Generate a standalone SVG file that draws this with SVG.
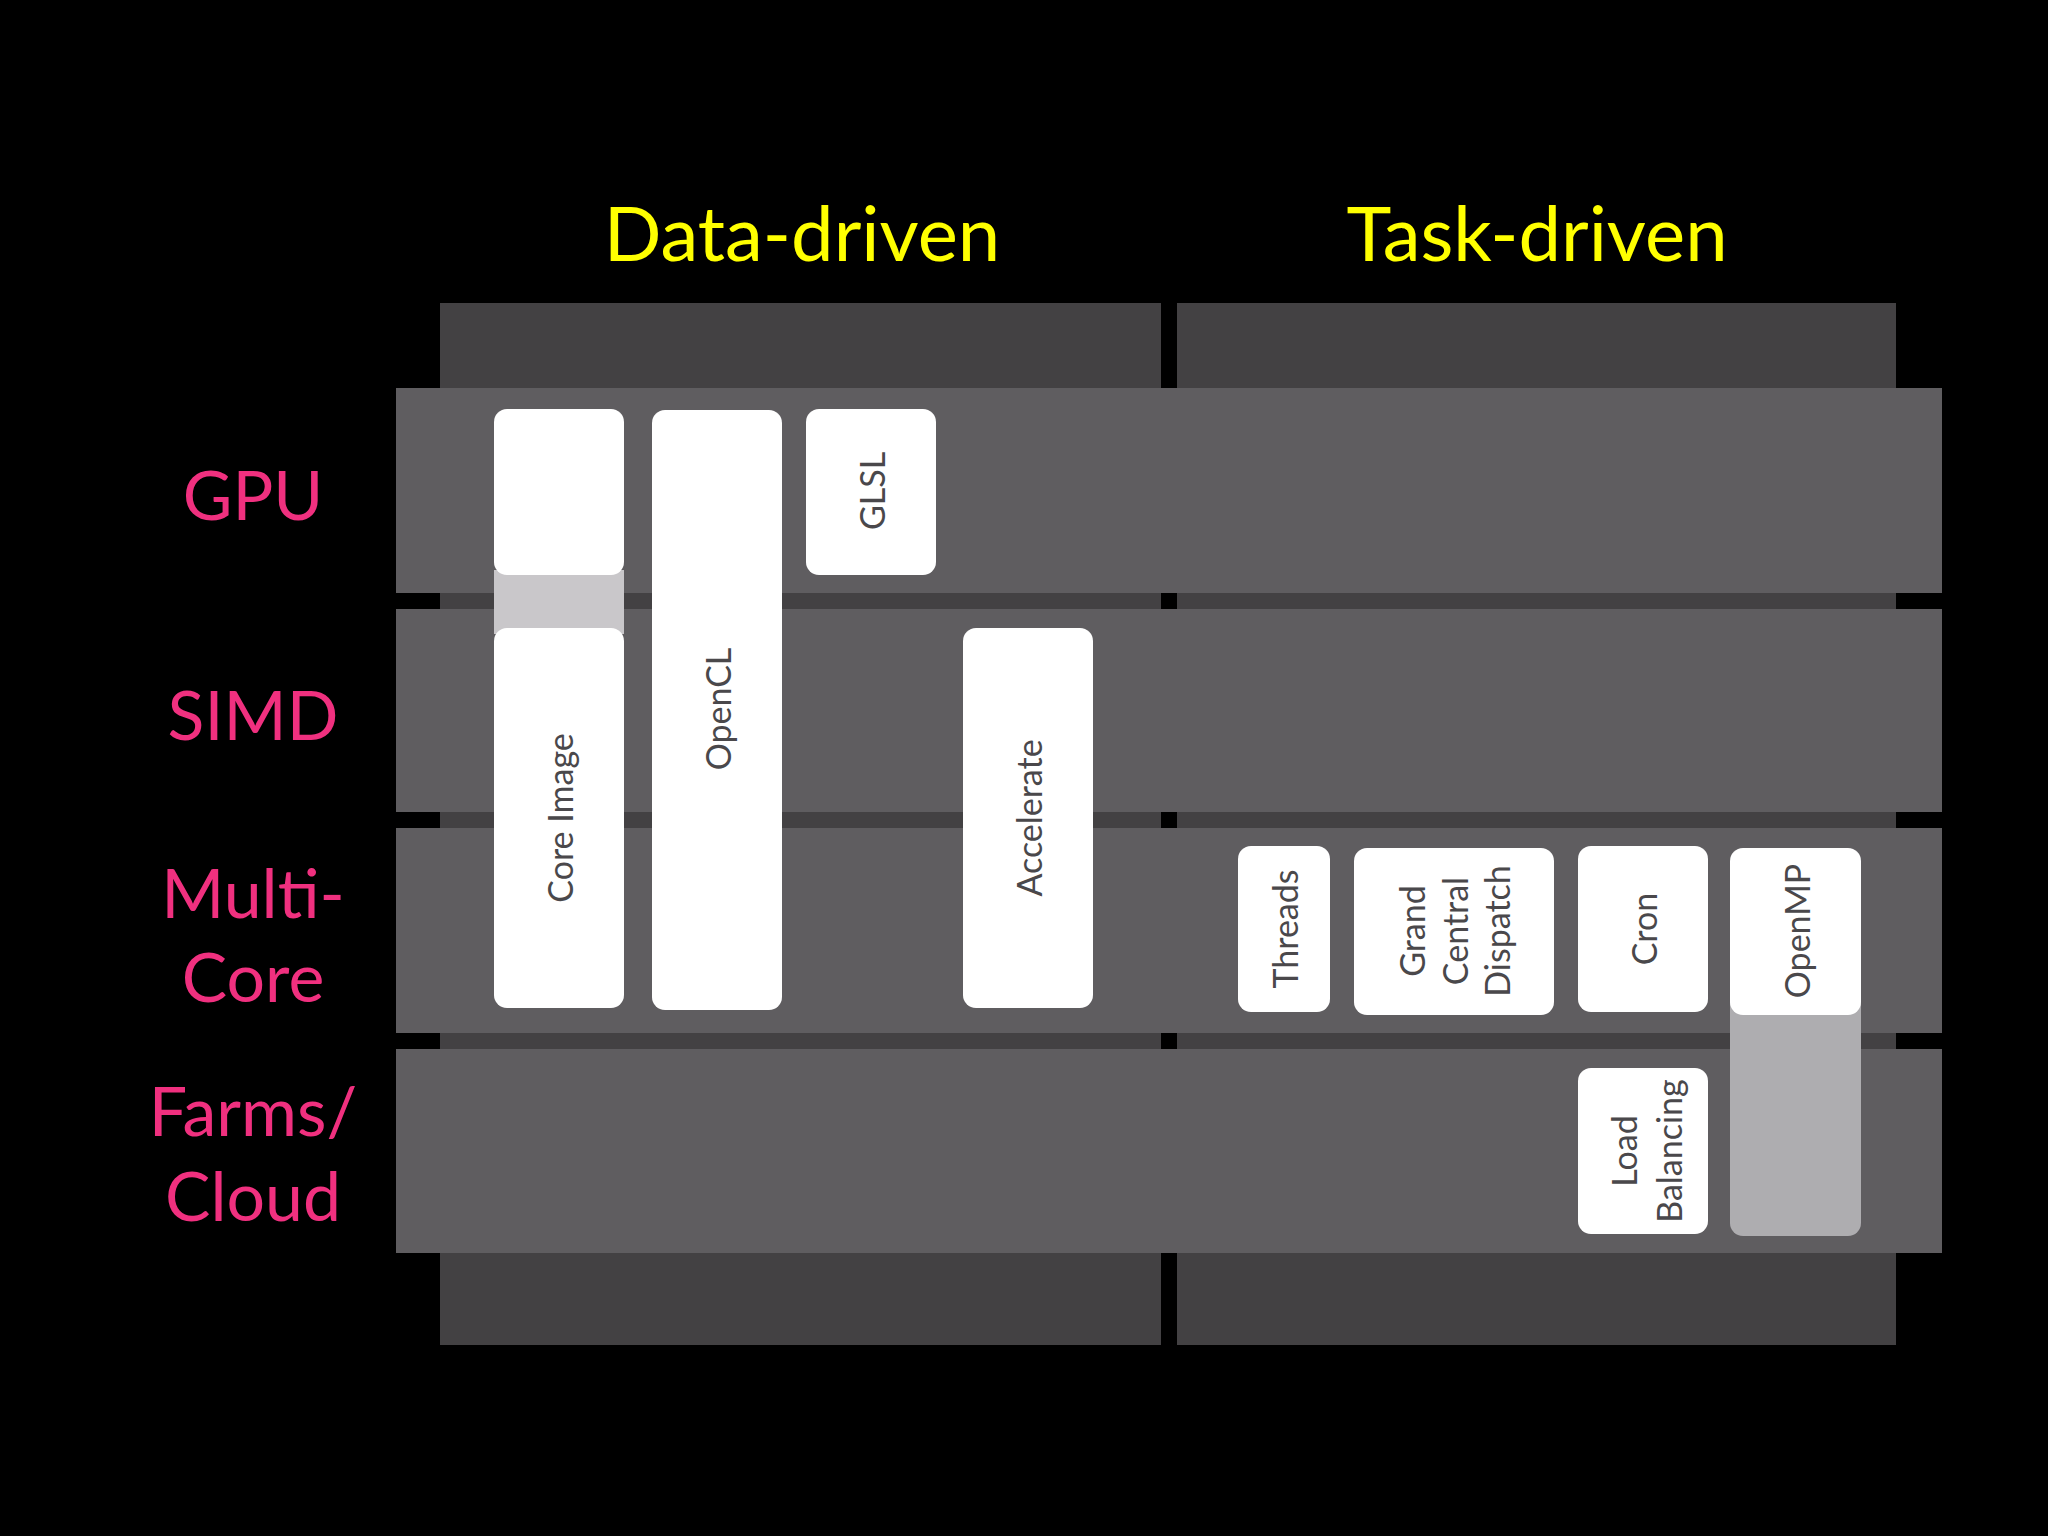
<svg xmlns="http://www.w3.org/2000/svg" width="2048" height="1536" viewBox="0 0 2048 1536">
<style>
.col{fill:#434143}
.row{fill:#5f5d60}
.box{fill:#ffffff}
.h{font-family:Lato,"Open Sans",sans-serif;font-size:76px;fill:#ffff00;text-anchor:middle}
.r{font-family:Lato,"Open Sans",sans-serif;font-size:68px;fill:#f0307f;text-anchor:middle}
.t{font-family:Lato,"Open Sans",sans-serif;font-size:34px;fill:#4a484b;text-anchor:middle;dominant-baseline:central}
</style>
<rect width="2048" height="1536" fill="#000"/>
<g id="columns">
<rect class="col" x="440" y="303" width="721" height="1042"/>
<rect class="col" x="1177" y="303" width="719" height="1042"/>
<text class="h" x="802" y="261">Data-driven</text>
<text class="h" x="1537" y="261">Task-driven</text>
</g>
<g id="rows">
<rect class="row" x="396" y="388" width="1546" height="205"/>
<rect class="row" x="396" y="609" width="1546" height="203"/>
<rect class="row" x="396" y="828" width="1546" height="205"/>
<rect class="row" x="396" y="1049" width="1546" height="204"/>
<text class="r" x="253" y="520">GPU</text>
<text class="r" x="253" y="740">SIMD</text>
<text class="r" x="253" y="918">Multi-</text>
<text class="r" x="253" y="1002">Core</text>
<text class="r" x="253" y="1136">Farms/</text>
<text class="r" x="253" y="1221">Cloud</text>
</g>
<g id="coreimage">
<rect x="494" y="570" width="130" height="64" fill="#c9c7ca"/>
<rect class="box" x="494" y="409" width="130" height="166" rx="13"/>
<rect class="box" x="494" y="628" width="130" height="380" rx="13"/>
<text class="t" transform="translate(559,818) rotate(-90)">Core Image</text>
</g>
<g id="opencl">
<rect class="box" x="652" y="410" width="130" height="600" rx="13"/>
<text class="t" transform="translate(717,709) rotate(-90)">OpenCL</text>
</g>
<g id="glsl">
<rect class="box" x="806" y="409" width="130" height="166" rx="13"/>
<text class="t" transform="translate(871,491) rotate(-90)">GLSL</text>
</g>
<g id="accelerate">
<rect class="box" x="963" y="628" width="130" height="380" rx="13"/>
<text class="t" transform="translate(1028,818) rotate(-90)">Accelerate</text>
</g>
<g id="threads">
<rect class="box" x="1238" y="846" width="92" height="166" rx="13"/>
<text class="t" transform="translate(1284,929) rotate(-90)">Threads</text>
</g>
<g id="gcd">
<rect class="box" x="1354" y="848" width="200" height="167" rx="13"/>
<text class="t" transform="translate(1411,931) rotate(-90)">Grand</text>
<text class="t" transform="translate(1454,931) rotate(-90)">Central</text>
<text class="t" transform="translate(1496,931) rotate(-90)">Dispatch</text>
</g>
<g id="cron">
<rect class="box" x="1578" y="846" width="130" height="166" rx="13"/>
<text class="t" transform="translate(1643,929) rotate(-90)">Cron</text>
</g>
<g id="openmp">
<rect x="1730" y="990" width="131" height="246" rx="13" fill="#aeadb0"/>
<rect class="box" x="1730" y="848" width="131" height="167" rx="13"/>
<text class="t" transform="translate(1796,931) rotate(-90)">OpenMP</text>
</g>
<g id="loadbalancing">
<rect class="box" x="1578" y="1068" width="130" height="166" rx="13"/>
<text class="t" transform="translate(1623,1151) rotate(-90)">Load</text>
<text class="t" transform="translate(1668,1151) rotate(-90)">Balancing</text>
</g>
<g id="connectors"></g>
</svg>
